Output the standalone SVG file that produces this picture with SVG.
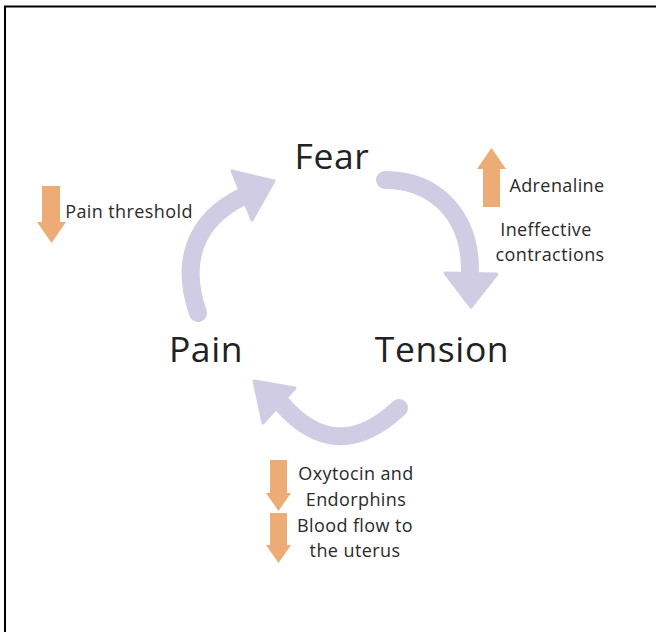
<svg xmlns="http://www.w3.org/2000/svg" width="656" height="632" viewBox="0 0 656 632">
  <style>
    .big { font-family: "Open Sans", "Liberation Sans", sans-serif; font-size: 35.5px; fill: #222222; text-anchor: middle; letter-spacing: 0.6px; }
    .small { font-family: "Open Sans", "Liberation Sans", sans-serif; font-size: 18px; fill: #2a2a2a; text-anchor: middle; letter-spacing: 0.4px; }
    .arc { fill: none; stroke: #D0CCE3; stroke-width: 18; stroke-linecap: round; }
    .head { fill: #D0CCE3; stroke: #D0CCE3; stroke-width: 3; stroke-linejoin: round; }
    .ind { fill: #EDAC76; }
  </style>
  <rect x="0" y="0" width="656" height="632" fill="#ffffff"/>
  <rect x="5" y="6.5" width="720" height="700" fill="none" stroke="#000000" stroke-width="2"/>

  <g id="connectors">
    <path class="arc" d="M198,313 C180,262 195,220 242,197"/>
    <polygon class="head" points="232,171 274,181 252,220"/>
    <path class="arc" d="M385,180 C435,180 470,215 470,270"/>
    <polygon class="head" points="445,273 497,274 471,307"/>
    <path class="arc" d="M399,408 Q336,467 281,403"/>
    <polygon class="head" points="254,381 295,388 263,423"/>
  </g>

  <g id="node-fear"><text class="big" x="332" y="169">Fear</text></g>
  <g id="node-tension"><text class="big" x="442" y="362">Tension</text></g>
  <g id="node-pain"><text class="big" x="206" y="362">Pain</text></g>

  <g id="note-pain-threshold">
    <polygon class="ind" points="42,186 60,186 60,222 66,222 51.5,243 37,222 42,222"/>
    <text class="small" x="129" y="218">Pain threshold</text>
  </g>

  <g id="note-tension">
    <polygon class="ind" points="483,207 500,207 500,169 506,169 491.5,148 477,169 483,169"/>
    <text class="small" x="557" y="192">Adrenaline</text>
    <text class="small" x="546" y="236">Ineffective</text>
    <text class="small" x="550" y="261">contractions</text>
  </g>

  <g id="note-pain">
    <polygon class="ind" points="270,460 287,460 287,493 291,493 278.5,511 266,493 270,493"/>
    <polygon class="ind" points="270,513 287,513 287,545 291,545 278.5,563 266,545 270,545"/>
    <text class="small" x="356" y="480">Oxytocin and</text>
    <text class="small" x="356" y="506">Endorphins</text>
    <text class="small" x="355" y="532">Blood flow to</text>
    <text class="small" x="355" y="557">the uterus</text>
  </g>
</svg>
